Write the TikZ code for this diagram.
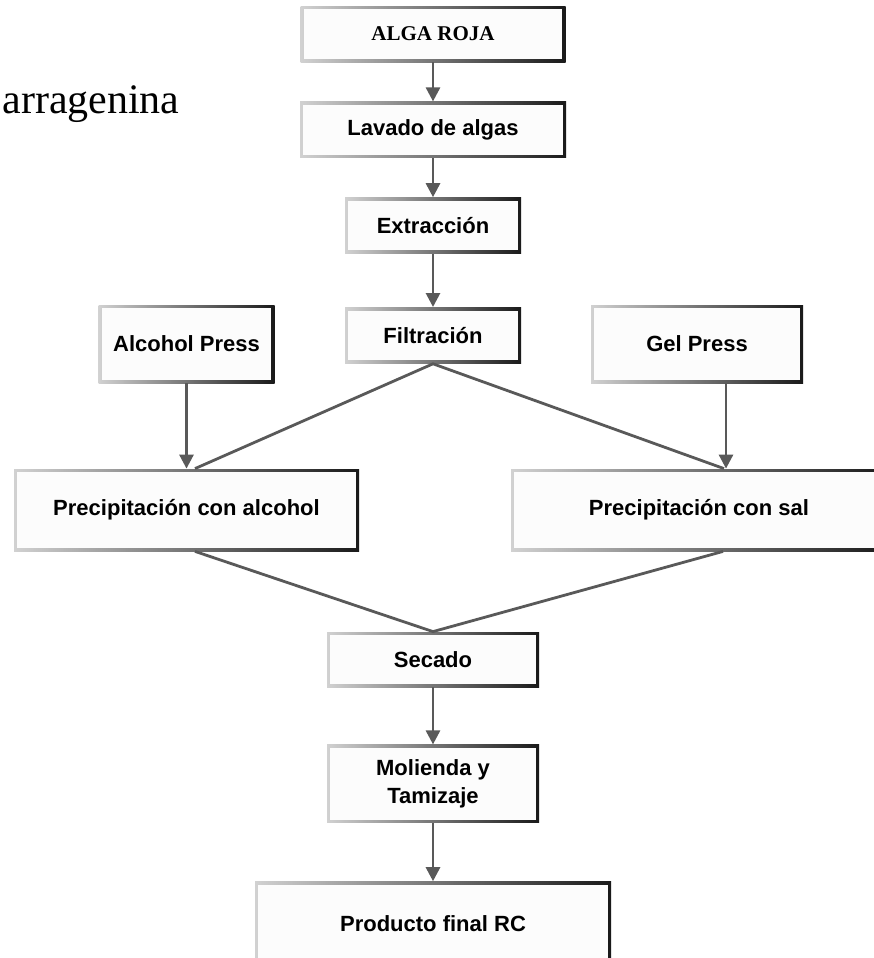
\documentclass[tikz,border=0pt]{standalone}
\usepackage{fontspec}
\setmainfont{Liberation Serif}
\setsansfont{Liberation Sans}
\usetikzlibrary{arrows.meta,positioning}

\tikzset{
  stepbox/.style={rectangle, inner sep=2pt, align=center,
    left color=black!18, right color=black!90,
    font=\sffamily\bfseries\fontsize{11}{14}\selectfont,
    path picture={\fill[black!1] ([shift={(1.6pt,-1.6pt)}]path picture bounding box.north west)
      rectangle ([shift={(-1.6pt,1.6pt)}]path picture bounding box.south east);}},
  flow/.style={draw=black!65, line width=1.4pt},
  titletext/.style={font=\rmfamily\fontsize{21}{25}\selectfont, inner sep=0pt}
}

\begin{document}
\begin{tikzpicture}[x=0.5pt, y=-0.5pt, >={Triangle[width=7pt,length=7pt]}]
            \useasboundingbox (0,0) rectangle (873,958);
            \node (title) [titletext, anchor=base west] at (2,113) {arragenina};

            \node (alga) [stepbox, font=\rmfamily\bfseries\fontsize{10.5}{13}\selectfont, minimum width=132.5pt, minimum height=28pt] at (433,34) {ALGA ROJA};
            \node (lavado) [stepbox, below=19.5pt of alga, minimum width=133pt, minimum height=28pt] {Lavado de algas};
            \node (extrac) [stepbox, below=19.5pt of lavado, minimum width=88pt, minimum height=28pt] {Extracción};
            \node (filt) [stepbox, below=26.5pt of extrac, minimum width=88pt, minimum height=28pt] {Filtración};
            \node (alcpress) [stepbox, minimum width=88pt, minimum height=39pt] at (186.5,344) {Alcohol Press};
            \node (gelpress) [stepbox, minimum width=106pt, minimum height=39pt] at (697,344) {Gel Press};
            \node (prealc) [stepbox, minimum width=172.5pt, minimum height=41pt] at (186.5,510) {Precipitación con alcohol};
            \node (presal) [stepbox, minimum width=188pt, minimum height=41pt] at (699,510) {Precipitación con sal};
            \node (secado) [stepbox, minimum width=106pt, minimum height=27.5pt] at (433,659.5) {Secado};
            \node (molienda) [stepbox, below=28.5pt of secado, minimum width=106pt, minimum height=39pt] {Molienda y\\Tamizaje};
            \node (producto) [stepbox, below=29pt of molienda, minimum width=178pt, minimum height=42pt] {Producto final RC};

            \draw[flow, ->] (alga) -- (lavado);
            \draw[flow, ->] (lavado) -- (extrac);
            \draw[flow, ->] (extrac) -- (filt);
            \draw[flow, ->] (alcpress) -- (prealc);
            \draw[flow, ->] ([xshift=14.5pt]gelpress.south) -- ([xshift=13.5pt]presal.north);
            \draw[flow] ([xshift=4.25pt]prealc.north) -- (filt.south) -- ([xshift=12.5pt]presal.north);
            \draw[flow] ([xshift=4.25pt]prealc.south) -- (secado.north) -- ([xshift=12pt]presal.south);
            \draw[flow, ->] (secado) -- (molienda);
            \draw[flow, ->] (molienda) -- (producto);
        \end{tikzpicture}
\end{document}
